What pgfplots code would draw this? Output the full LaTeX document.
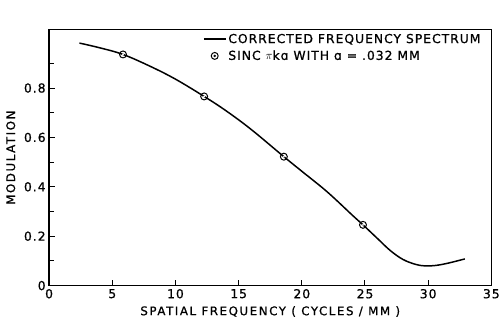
\documentclass[border=0pt]{standalone}
\usepackage{fontspec}
\setmainfont{DejaVu Sans}[LetterSpace=8, FakeBold=0.8]
\usepackage{pgfplots}
\pgfplotsset{compat=1.18}

\pgfdeclareplotmark{odot}{%
  \pgfpathcircle{\pgfpointorigin}{\pgfplotmarksize}\pgfusepathqstroke
  \pgfpathcircle{\pgfpointorigin}{0.3\pgfplotmarksize}\pgfusepathqfill}

\begin{document}
\begin{tikzpicture}
\begin{axis}[
  scale only axis, width=446bp, height=258bp,
  xmin=0, xmax=35, ymin=0, ymax=1.036,
  xtick={0,5,...,35},
  ytick={0,0.2,0.4,0.6,0.8},
  yticklabels={0,0.2,0.4,0.6,0.8},
  minor ytick={0.1,0.3,0.5,0.7,0.9},
  xtick pos=left, ytick pos=left,
  tick align=inside,
  major tick length=6bp, minor tick length=5bp,
  axis line style={line width=1.2bp},
  every tick/.style={line width=1bp, black},
  /pgf/number format/assume math mode=true,
  tick label style={font=\fontsize{12.5}{13}\selectfont},
  xlabel={SPATIAL FREQUENCY ( CYCLES / MM )},
  ylabel={MODULATION},
  label style={font=\fontsize{12}{13}\selectfont\addfontfeatures{LetterSpace=13}},
  xlabel style={yshift=-1bp},
  ylabel style={yshift=2bp},
  legend cell align=left,
  legend style={draw=none, fill=none, at={(rel axis cs:0.341,1.0)}, anchor=north west,
    font=\fontsize{12.5}{13}\selectfont, row sep=2bp},
]
\addplot[black, line width=1.5bp, smooth, tension=0.6,
  legend image code/.code={\draw[black, line width=1.5bp] (-5bp,0bp)--(17bp,0bp);}]
coordinates {
(2.4,0.982) (4,0.963) (5.85,0.936) (8,0.888) (10,0.836) (12.27,0.766)
(14,0.708) (16,0.632) (18.58,0.522) (20,0.463) (22,0.38) (24,0.285)
(24.84,0.246) (26,0.19) (27,0.142) (28,0.106) (29,0.086) (29.7,0.080)
(30.5,0.081) (31.5,0.09) (32.9,0.108)
};
\addlegendentry{CORRECTED FREQUENCY SPECTRUM}
\addplot[black, only marks, mark=odot, mark size=3.5bp, mark options={line width=1bp, fill=white},
  legend image code/.code={\draw[black, line width=1bp] (6bp,0bp) circle (3.5bp); \fill[black] (6bp,0bp) circle (1.05bp);}]
coordinates {(5.85,0.936) (12.27,0.766) (18.58,0.522) (24.84,0.246)};
\addlegendentry{SINC $\pi$kɑ WITH ɑ = .032 MM}
\end{axis}
\path ([shift={(-49.5bp,-35bp)}]current axis.south west) rectangle ([shift={(7.5bp,30bp)}]current axis.north east);
\end{tikzpicture}
\end{document}
